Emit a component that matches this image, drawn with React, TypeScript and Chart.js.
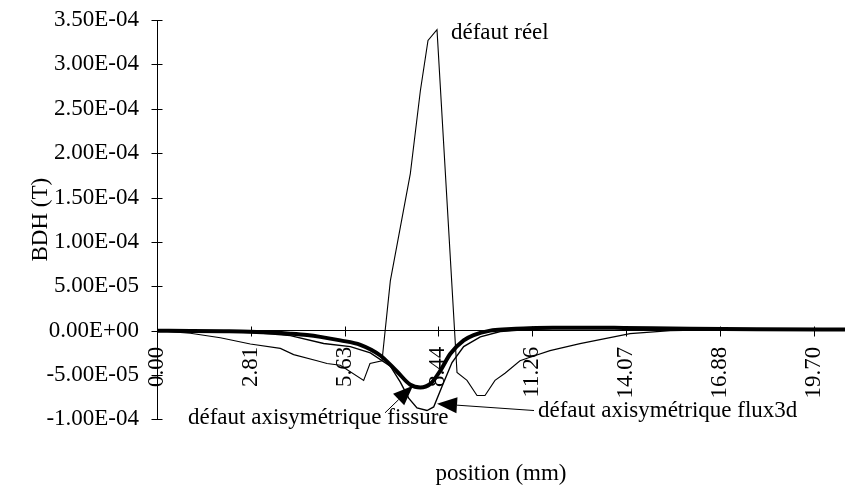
import React, { useEffect, useRef } from "react";
import { Chart, registerables } from "chart.js";

Chart.register(...registerables);

// ---- data ----
const xTickValues = [0, 2.81, 5.63, 8.44, 11.26, 14.07, 16.88, 19.7];
const xTickLabels = ["0.00", "2.81", "5.63", "8.44", "11.26", "14.07", "16.88", "19.70"];
const yTickValues = [-1e-4, -5e-5, 0, 5e-5, 1e-4, 1.5e-4, 2e-4, 2.5e-4, 3e-4, 3.5e-4];
const yTickLabels = [
  "-1.00E-04", "-5.00E-05", "0.00E+00", "5.00E-05", "1.00E-04",
  "1.50E-04", "2.00E-04", "2.50E-04", "3.00E-04", "3.50E-04",
];

// défaut réel (mm, T)
const reelPos = [0, 1.0, 1.9, 2.8, 3.7, 4.1, 4.8, 5.1, 5.5, 6.2, 6.39, 6.75, 7.0, 7.6, 7.9, 8.13, 8.4, 9.0, 9.3, 9.6, 9.84, 10.14, 10.44, 10.89, 11.19, 11.79, 12.69, 13.59, 14.19, 15.4, 17.0, 20.64];
const reelBdh = [0, -3e-6, -8e-6, -1.5e-5, -2.0e-5, -2.7e-5, -3.4e-5, -3.7e-5, -3.9e-5, -5.6e-5, -3.7e-5, -3.4e-5, 5.6e-5, 1.77e-4, 2.7e-4, 3.27e-4, 3.39e-4, -4.7e-5, -5.6e-5, -7.3e-5, -7.3e-5, -5.6e-5, -4.8e-5, -3.4e-5, -3.0e-5, -2.25e-5, -1.46e-5, -7.9e-6, -3.4e-6, 0, 1e-6, 1e-6];

// défaut axisymétrique fissure (thick)
const fissurePos = [0, 1.0, 2.0, 2.8, 3.5, 4.0, 4.5, 4.9, 5.5, 6.1, 6.7, 7.2, 7.6, 7.9, 8.2, 8.5, 8.8, 9.2, 9.5, 10.0, 10.5, 11.0, 12.0, 13.0, 14.0, 16.0, 18.0, 20.64];
const fissureBdh = [0, -3e-7, -7e-7, -1.2e-6, -2.2e-6, -3.4e-6, -5e-6, -7e-6, -1.1e-5, -1.6e-5, -2.8e-5, -4.6e-5, -6.1e-5, -6.4e-5, -6.0e-5, -4.5e-5, -2.6e-5, -1.1e-5, -5e-6, 0, 1.5e-6, 2.5e-6, 3.2e-6, 3.4e-6, 3.0e-6, 2.0e-6, 1.5e-6, 1.2e-6];

// défaut axisymétrique flux3d (thin)
const flux3dPos = [0, 2.0, 3.0, 4.0, 5.0, 5.8, 6.4, 7.0, 7.3, 7.55, 7.8, 8.1, 8.3, 8.55, 8.85, 9.2, 9.7, 10.3, 11.2, 12.0, 14.0, 16.0, 20.64];
const flux3dBdh = [0, -1e-6, -2.5e-6, -5.6e-6, -1.45e-5, -1.8e-5, -2.5e-5, -4.0e-5, -5.8e-5, -7.6e-5, -8.7e-5, -9.0e-5, -8.6e-5, -6.3e-5, -3.6e-5, -1.8e-5, -7e-6, -1e-6, 1.5e-6, 3e-6, 3e-6, 2e-6, 1.2e-6];

const FONT = '"Liberation Serif", "Times New Roman", serif';

const toPoints = (xs: number[], ys: number[]) => xs.map((x, i) => ({ x, y: ys[i] }));

const annotationPlugin = {
  id: "annotations",
  afterDraw(chart: any) {
    const { ctx } = chart;
    const xs = chart.scales.x;
    const ys = chart.scales.y;
    const px = (v: number) => xs.getPixelForValue(v);
    const py = (v: number) => ys.getPixelForValue(v);
    ctx.save();
    ctx.strokeStyle = "#000";
    ctx.fillStyle = "#000";
    ctx.lineWidth = 1;
    const line = (a: number, b: number, c: number, d: number) => {
      ctx.beginPath();
      ctx.moveTo(a, b);
      ctx.lineTo(c, d);
      ctx.stroke();
    };
    const x0 = Math.round(px(0)) + 0.5;
    const y0 = Math.round(py(0)) + 0.5;
    xTickValues.forEach((v) => {
      const p = Math.round(px(v)) + 0.5;
      line(p, y0 - 5, p, y0 + 5);
    });
    yTickValues.forEach((v) => {
      const p = Math.round(py(v)) + 0.5;
      line(x0 - 6, p, x0 + 5, p);
    });

    ctx.font = `23px ${FONT}`;
    ctx.textAlign = "left";
    ctx.textBaseline = "middle";
    ctx.fillText("défaut réel", px(8.82), py(3.35e-4));
    ctx.fillText("défaut axisymétrique fissure", px(0.93), py(-9.8e-5));
    ctx.fillText("défaut axisymétrique flux3d", px(11.43), py(-9.0e-5));

    const arrow = (tx: number, ty: number, hx: number, hy: number) => {
      const ax = px(tx), ay = py(ty), bx = px(hx), by = py(hy);
      const dx = bx - ax, dy = by - ay;
      const len = Math.hypot(dx, dy);
      const ux = dx / len, uy = dy / len;
      const L = 20, W = 8;
      const cx = bx - ux * L, cy = by - uy * L;
      line(ax, ay, cx, cy);
      ctx.beginPath();
      ctx.moveTo(bx, by);
      ctx.lineTo(cx - uy * W, cy + ux * W);
      ctx.lineTo(cx + uy * W, cy - ux * W);
      ctx.closePath();
      ctx.fill();
    };
    arrow(6.84, -9.26e-5, 7.68, -6.2e-5);
    arrow(11.31, -9.0e-5, 8.4, -8.24e-5);
    ctx.restore();
  },
};

export default function App() {
  const ref = useRef<HTMLCanvasElement | null>(null);
  useEffect(() => {
    if (!ref.current) return;
    Chart.defaults.color = "#000";
    const chart = new Chart(ref.current, {
      type: "line",
      data: {
        datasets: [
          {
            label: "défaut axisymétrique fissure",
            data: toPoints(fissurePos, fissureBdh),
            borderColor: "#000",
            borderWidth: 4,
            pointRadius: 0,
            cubicInterpolationMode: "monotone",
            fill: false,
          },
          {
            label: "défaut axisymétrique flux3d",
            data: toPoints(flux3dPos, flux3dBdh),
            borderColor: "#000",
            borderWidth: 1.4,
            pointRadius: 0,
            tension: 0,
            fill: false,
          },
          {
            label: "défaut réel",
            data: toPoints(reelPos, reelBdh),
            borderColor: "#000",
            borderWidth: 1.1,
            pointRadius: 0,
            tension: 0,
            fill: false,
          },
        ],
      },
      options: {
        animation: false,
        responsive: false,
        layout: { padding: { top: 20, left: 0, right: 0, bottom: 0 } },
        plugins: {
          legend: { display: false },
          tooltip: { enabled: false },
          title: {
            display: true,
            text: "position (mm)",
            position: "bottom",
            fullSize: false,
            color: "#000",
            font: { family: FONT, size: 23, weight: "normal" },
            padding: { top: 41, bottom: 3 },
          },
        },
        scales: {
          x: {
            type: "linear",
            position: { y: 0 },
            min: 0,
            max: 20.64,
            grid: { display: false, drawTicks: false },
            border: { display: true, color: "#000", width: 1 },
            afterBuildTicks: (s: any) => {
              s.ticks = xTickValues.map((v) => ({ value: v }));
            },
            afterFit: (s: any) => {
              s.paddingRight = 0;
              s.paddingLeft = 0;
            },
            ticks: {
              autoSkip: false,
              minRotation: 90,
              maxRotation: 90,
              padding: 16,
              color: "#000",
              font: { family: FONT, size: 23 },
              callback: (_v: any, i: number) => xTickLabels[i],
            },
          },
          y: {
            type: "linear",
            min: -1e-4,
            max: 3.5e-4,
            grid: { display: false, drawTicks: false },
            border: { display: true, color: "#000", width: 1 },
            afterBuildTicks: (s: any) => {
              s.ticks = yTickValues.map((v) => ({ value: v }));
            },
            afterFit: (s: any) => {
              s.width = 157;
              s.paddingTop = 0;
              s.paddingBottom = 0;
            },
            ticks: {
              padding: 18,
              color: "#000",
              font: { family: FONT, size: 23 },
              callback: (_v: any, i: number) => yTickLabels[i],
            },
            title: {
              display: true,
              text: "BDH (T)",
              color: "#000",
              font: { family: FONT, size: 23 },
              padding: { top: 27, bottom: 0 },
            },
          },
        },
      },
      plugins: [annotationPlugin],
    } as any);
    return () => chart.destroy();
  }, []);
  return (
    <div style={{ position: "absolute", left: 0, top: 0, width: 845, height: 491, background: "#fff" }}>
      <canvas ref={ref} width={845} height={491} style={{ display: "block" }} />
    </div>
  );
}
